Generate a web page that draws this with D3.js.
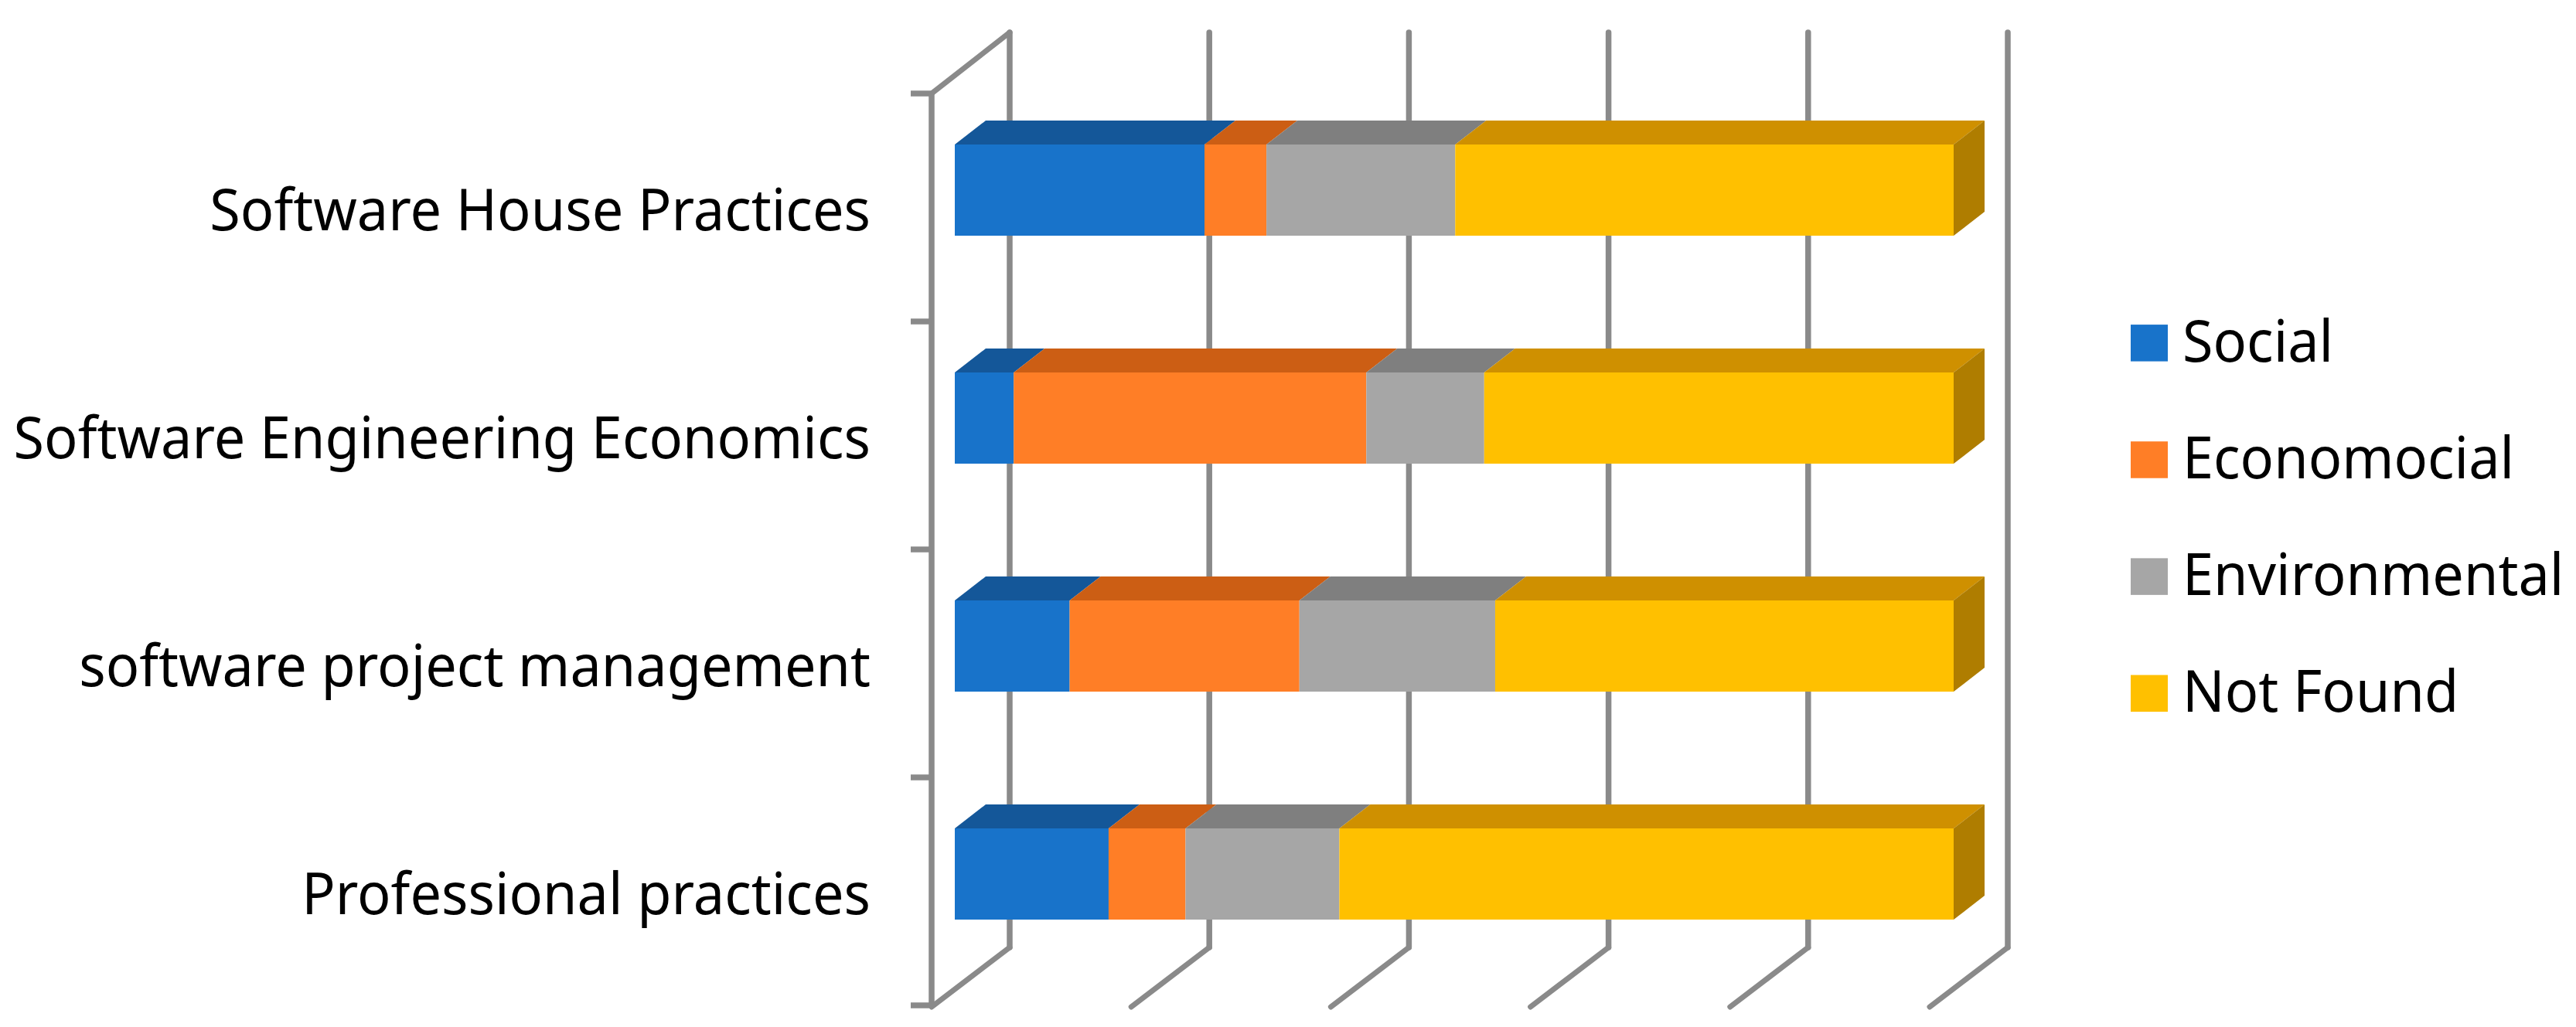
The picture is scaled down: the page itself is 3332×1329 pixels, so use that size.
<!DOCTYPE html>
<html>
<head>
<meta charset="utf-8">
<script src="https://cdn.jsdelivr.net/npm/d3@7"></script>
<style>html,body{margin:0;padding:0;background:#fff;overflow:hidden}svg{display:block}text{font-family:"Noto Sans",sans-serif;fill:#000}</style>
</head>
<body>
<svg id="chart" width="3332" height="1329"></svg>
<script>
// Data (percent of each bar)
const categories = ["Software House Practices","Software Engineering Economics","software project management","Professional practices"];
const seriesNames = ["Social","Economocial","Environmental","Not Found"];
const social = [25.0, 5.9, 11.5, 15.4];
const economocial = [6.2, 35.3, 23.0, 7.7];
const environmental = [18.9, 11.8, 19.6, 15.4];
const notFound = [49.9, 47.0, 45.9, 61.5];
const xTicks = [0,20,40,60,80,100];

const frontColors = ["#1873CA","#FF7E26","#A6A6A6","#FFC000"];
const topColors = ["#145799","#CC5E14","#7F7F7F","#CF9000"];
const sideColor = "#AF7D00";
const lineColor = "#8A8A8A";

const rows = categories.map((c,i)=>({category:c,Social:social[i],Economocial:economocial[i],Environmental:environmental[i],"Not Found":notFound[i]}));
const stacked = d3.stack().keys(seriesNames)(rows);

const svg = d3.select("#chart");
// scales
const x = d3.scaleLinear().domain([0,100]).range([1235,2527]);      // bar front plane
const gridX = d3.scaleLinear().domain([0,100]).range([1306,2597]);  // back wall
const floorX = d3.scaleLinear().domain([0,100]).range([1205,2496]); // front floor edge
const y = d3.scaleBand().domain(categories).range([121,1301]);
const barInset = 66, barH = 118, depthX = 40, depthY = 31;
const wallTop = 42, wallBottom = 1226, axisBottom = 1303;

// walls / grid
const grid = svg.append("g").attr("stroke",lineColor).attr("stroke-width",7.5).attr("fill","none");
grid.selectAll("line.g").data(xTicks).join("line").attr("class","g")
  .attr("x1",d=>gridX(d)).attr("x2",d=>gridX(d)).attr("y1",wallTop).attr("y2",wallBottom).attr("stroke-linecap","round");
grid.selectAll("line.f").data(xTicks).join("line").attr("class","f").attr("stroke-width",7)
  .attr("x1",d=>floorX(d)).attr("x2",d=>gridX(d)).attr("y1",axisBottom).attr("y2",wallBottom).attr("stroke-linecap","round");
grid.append("line").attr("x1",floorX(0)).attr("x2",gridX(0)).attr("y1",y.range()[0]).attr("y2",wallTop).attr("stroke-width",7).attr("stroke-linecap","round");
grid.append("line").attr("x1",floorX(0)).attr("x2",floorX(0)).attr("y1",y.range()[0]).attr("y2",axisBottom);
const tickYs = categories.map(c=>y(c)).concat([y.range()[1]]);
grid.selectAll("line.t").data(tickYs).join("line").attr("class","t")
  .attr("x1",1178).attr("x2",floorX(0)).attr("y1",d=>d).attr("y2",d=>d);

// bars
const bars = svg.append("g");
stacked.forEach((s,si)=>{
  const g = bars.append("g");
  g.selectAll("path.top").data(s).join("path").attr("class","top")
    .attr("fill",topColors[si])
    .attr("d",(d,i)=>{
      const yy = y(categories[i])+barInset, a=x(d[0]), b=x(d[1]);
      return `M${a},${yy}L${a+depthX},${yy-depthY}L${b+depthX},${yy-depthY}L${b},${yy}Z`;
    });
  g.selectAll("rect").data(s).join("rect")
    .attr("fill",frontColors[si])
    .attr("x",d=>x(d[0])).attr("width",d=>x(d[1])-x(d[0]))
    .attr("y",(d,i)=>y(categories[i])+barInset).attr("height",barH);
  if(si===stacked.length-1){
    g.selectAll("path.side").data(s).join("path").attr("class","side")
      .attr("fill",sideColor)
      .attr("d",(d,i)=>{
        const yy = y(categories[i])+barInset, b=x(d[1]);
        return `M${b},${yy}L${b+depthX},${yy-depthY}L${b+depthX},${yy-depthY+barH}L${b},${yy+barH}Z`;
      });
  }
});

// category labels
const labelK = 0.973;
svg.append("g").selectAll("text").data(categories).join("text")
  .attr("text-anchor","end").attr("font-size",74)
  .attr("transform",d=>`translate(1126,${y(d)+y.bandwidth()/2+29}) scale(${labelK},1)`)
  .text(d=>d);

// legend
const legendY = d3.scalePoint().domain(seriesNames).range([467.6,921]);
const legend = svg.append("g").selectAll("g").data(seriesNames).join("g");
legend.append("rect").attr("x",2756).attr("width",48).attr("height",47.5)
  .attr("y",d=>legendY(d)-47.5).attr("fill",(d,i)=>frontColors[i]);
legend.append("text").attr("font-size",74)
  .attr("transform",d=>`translate(2823,${legendY(d)}) scale(${labelK},1)`)
  .text(d=>d);
</script>
</body>
</html>
